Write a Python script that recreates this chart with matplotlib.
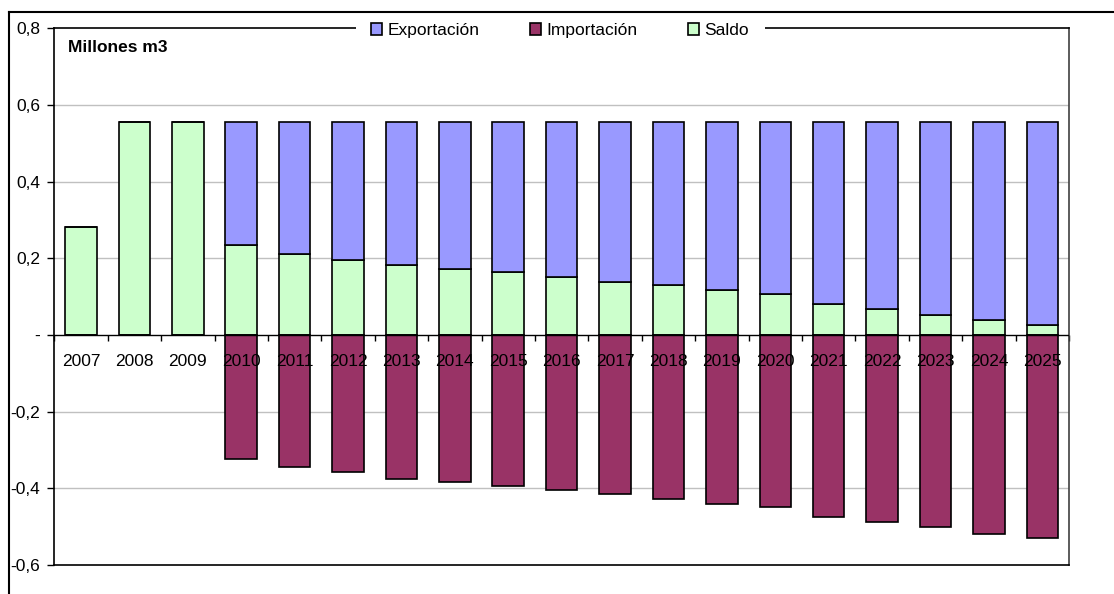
import matplotlib
matplotlib.use("Agg")
import matplotlib.pyplot as plt
from matplotlib.patches import Patch
from matplotlib.lines import Line2D
import numpy as np

years = ["2007", "2008", "2009", "2010", "2011", "2012", "2013", "2014", "2015", "2016",
         "2017", "2018", "2019", "2020", "2021", "2022", "2023", "2024", "2025"]
saldo = [0.281, 0.556, 0.556, 0.234, 0.212, 0.195, 0.182, 0.173, 0.164, 0.152,
         0.138, 0.130, 0.118, 0.108, 0.081, 0.069, 0.052, 0.039, 0.027]
exportacion = [0.0, 0.0, 0.0, 0.322, 0.344, 0.361, 0.374, 0.383, 0.392, 0.404,
               0.418, 0.426, 0.438, 0.448, 0.475, 0.487, 0.504, 0.517, 0.529]
importacion = [0.0, 0.0, 0.0, -0.324, -0.345, -0.357, -0.376, -0.383, -0.393, -0.404,
               -0.415, -0.427, -0.441, -0.449, -0.474, -0.487, -0.500, -0.518, -0.530]
yticks = [-0.6, -0.4, -0.2, 0.0, 0.2, 0.4, 0.6, 0.8]
ytick_labels = ["-0,6", "-0,4", "-0,2", "-", "0,2", "0,4", "0,6", "0,8"]

plt.rcParams['font.family'] = ['Liberation Sans', 'DejaVu Sans']
FS = 12.5

fig = plt.figure(figsize=(11.14, 5.94), dpi=100)
W, H = 1114, 594
ax = fig.add_axes([54.3 / W, 1 - 565 / H, (1069 - 54.3) / W, (565 - 28.3) / H])

x = np.arange(len(years))
bw = 0.59
c_exp, c_imp, c_sal = "#9999FF", "#993366", "#CCFFCC"
ekw = dict(edgecolor="black", linewidth=1.2, zorder=3)
ax.bar(x, saldo, bw, color=c_sal, **ekw)
ax.bar(x, exportacion, bw, bottom=saldo, color=c_exp, **ekw)
ax.bar(x, importacion, bw, color=c_imp, **ekw)

ax.set_xlim(-0.5, len(years) - 0.5)
ax.set_ylim(-0.6, 0.8)
ax.set_yticks(yticks)
ax.set_yticklabels(ytick_labels, fontsize=FS)
ax.tick_params(axis='y', direction='out', length=5, width=1, pad=5, colors='black')
ax.set_xticks([])
for v in yticks:
    if -0.6 < v < 0.8 and v != 0:
        ax.axhline(v, color="#C0C0C0", linewidth=1, zorder=1)
ax.axhline(0, color="black", linewidth=1, zorder=4)
for s in ax.spines.values():
    s.set_color("black")
    s.set_linewidth(1.2)
ax.spines['right'].set_color("#404040")

# boundary tick marks on the zero line
sec = ax.secondary_xaxis(0.6 / 1.4)
sec.set_xticks(np.arange(-0.5, len(years), 1.0))
sec.set_xticklabels([])
sec.tick_params(axis='x', direction='out', length=4, width=1)
sec.spines['bottom'].set_visible(False)

for i, yr in enumerate(years):
    ax.annotate(yr, xy=(i, 0), xytext=(0, -19), textcoords='offset pixels',
                ha='center', va='top', fontsize=FS, zorder=6)

ax.text(68 / W, 1 - 48 / H, "Millones m3", transform=fig.transFigure,
        fontsize=FS, fontweight='bold', va='center', ha='left')

handles = [Patch(facecolor=c_exp, edgecolor='black', linewidth=1.2),
           Patch(facecolor=c_imp, edgecolor='black', linewidth=1.2),
           Patch(facecolor=c_sal, edgecolor='black', linewidth=1.2)]
leg = ax.legend(handles, ["Exportación", "Importación", "Saldo"], ncol=3,
                loc='center', bbox_to_anchor=(0.4985, 0.996), fontsize=FS,
                frameon=True, facecolor='white', edgecolor='none', framealpha=1,
                handlelength=0.65, handleheight=0.65, handletextpad=0.3,
                columnspacing=2.9, borderpad=0.4, borderaxespad=0)
leg.get_frame().set_boxstyle('square', pad=0.5)
leg.set_zorder(10)

# outer chart frame (partial)
fig.add_artist(Line2D([9 / W, 9 / W], [0, 1 - 12 / H], transform=fig.transFigure,
                      color='black', linewidth=1.5))
fig.add_artist(Line2D([9 / W, 1], [1 - 12 / H, 1 - 12 / H], transform=fig.transFigure,
                      color='black', linewidth=1.5))

fig.savefig("out.png", dpi=100)
